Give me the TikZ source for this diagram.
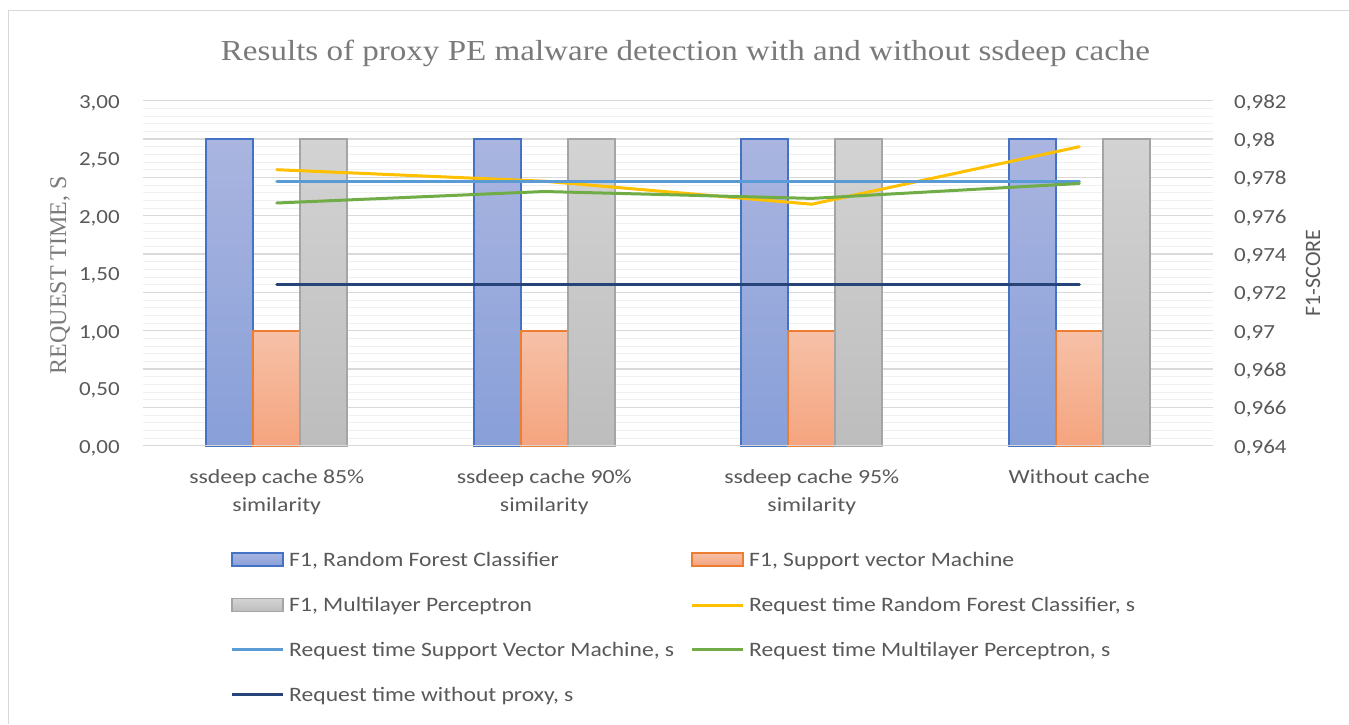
\documentclass[tikz,border=0pt]{standalone}
\usepackage{fontspec}
\setmainfont{Liberation Serif}
\newfontfamily\calib{Carlito}
\definecolor{gridmaj}{HTML}{D9D9D9}
\definecolor{gridmin}{HTML}{F0F0F0}
\definecolor{txtgray}{HTML}{595959}
\definecolor{titlegray}{HTML}{7A7A7A}
\definecolor{rfedge}{HTML}{4472C4}
\definecolor{rftop}{HTML}{AAB5E0}
\definecolor{rfbot}{HTML}{889FD8}
\definecolor{svedge}{HTML}{ED7D31}
\definecolor{svtop}{HTML}{F6C1A8}
\definecolor{svbot}{HTML}{F5A47E}
\definecolor{mledge}{HTML}{A5A5A5}
\definecolor{mltop}{HTML}{D3D3D3}
\definecolor{mlbot}{HTML}{BDBDBD}
\definecolor{lyellow}{HTML}{FFC000}
\definecolor{lblue}{HTML}{5B9BD5}
\definecolor{lgreen}{HTML}{70AD47}
\definecolor{lnavy}{HTML}{264478}
\tikzset{
  minorgrid/.style={draw=gridmin, line width=1pt},
  majorgrid/.style={draw=gridmaj, line width=1.3pt},
  rfbar/.style={draw=rfedge, line width=1.8pt, top color=rftop, bottom color=rfbot},
  svbar/.style={draw=svedge, line width=1.8pt, top color=svtop, bottom color=svbot},
  mlbar/.style={draw=mledge, line width=1.8pt, top color=mltop, bottom color=mlbot},
  serline/.style={line width=3pt, line join=round, line cap=round},
  ticklab/.style={font=\calib\fontsize{20}{24}\selectfont, text=txtgray, inner sep=0pt, xscale=1.15},
  catlab/.style={font=\calib\fontsize{20}{24}\selectfont, text=txtgray, inner sep=0pt, anchor=base, xscale=1.19},
  leglab/.style={font=\calib\fontsize{20.5}{24}\selectfont, text=txtgray, inner sep=0pt, anchor=base west, xscale=1.15},
  legline/.style={line width=3pt},
}
\begin{document}
\begin{tikzpicture}[x=1pt,y=-1pt]
\useasboundingbox (0,0) rectangle (1349,724);
\fill[white] (0,0) rectangle (1349,724);
% chart frame (top and left visible)
\draw[gridmaj, line width=1.5pt] (1349,10.7) -- (8.7,10.7) -- (8.7,724);
% title
\node[font=\fontsize{29}{34}\selectfont, text=titlegray, inner sep=0pt, anchor=base, xscale=1.14] (title) at (685.5,60) {Results of proxy PE malware detection with and without ssdeep cache};
% gridlines
\foreach \i in {0,...,45} {
  \pgfmathsetmacro\yy{100.7+\i*345/45}
  \draw[minorgrid] (143,\yy) -- (1213,\yy);
}
\foreach \i in {0,...,9} {
  \pgfmathsetmacro\yy{100.7+\i*345/9}
  \draw[majorgrid] (143,\yy) -- (1213,\yy);
}
% left tick labels
\foreach \i/\lab in {0/{0,00},1/{0,50},2/{1,00},3/{1,50},4/{2,00},5/{2,50},6/{3,00}} {
  \pgfmathsetmacro\yy{445.7-\i*57.5+7.3}
  \node[ticklab, anchor=base east] (tl\i) at (120,\yy) {\lab};
}
% right tick labels
\foreach \i/\lab in {0/{0,964},1/{0,966},2/{0,968},3/{0,97},4/{0,972},5/{0,974},6/{0,976},7/{0,978},8/{0,98},9/{0,982}} {
  \pgfmathsetmacro\yy{445.7-\i*345/9+7.3}
  \node[ticklab, anchor=base west] (tr\i) at (1234,\yy) {\lab};
}
% axis titles
\node[font=\fontsize{24}{28}\selectfont, text=titlegray, inner sep=0pt, anchor=base, rotate=90] (ytitle) at (66,275) {REQUEST TIME, S};
\node[font=\calib\fontsize{22}{26}\selectfont, text=txtgray, inner sep=0pt, anchor=base, rotate=90] (y2title) at (1320,273) {F1-SCORE};
% bars
\foreach \c in {276.75,544.25,811.75,1079.25} {
  \draw[rfbar] (\c-70.5,139.0) rectangle (\c-23.5,445.7);
  \draw[svbar] (\c-23.5,330.7) rectangle (\c+23.5,445.7);
  \draw[mlbar] (\c+23.5,139.0) rectangle (\c+70.5,445.7);
}
% axis line
\draw[gridmaj, line width=1.5pt] (143,445.7) -- (1213,445.7);
% line series
\coordinate (y1) at (276.75,169.7); \coordinate (y2) at (544.25,181.2);
\coordinate (y3) at (811.75,204.2); \coordinate (y4) at (1079.25,146.7);
\coordinate (b1) at (276.75,181.2); \coordinate (b4) at (1079.25,181.2);
\coordinate (g1) at (276.75,203.0); \coordinate (g2) at (544.25,191.5);
\coordinate (g3) at (811.75,198.4); \coordinate (g4) at (1079.25,183.5);
\coordinate (n1) at (276.75,284.7); \coordinate (n4) at (1079.25,284.7);
\draw[serline, lyellow] (y1) -- (y2) -- (y3) -- (y4);
\draw[serline, lblue] (b1) -- (b4);
\draw[serline, lgreen] (g1) -- (g2) -- (g3) -- (g4);
\draw[serline, lnavy] (n1) -- (n4);
% category labels
\node[catlab] (c1a) at (276.75,483.3) {ssdeep cache 85\%};
\node[catlab] (c1b) at (276.75,511.7) {similarity};
\node[catlab] (c2a) at (544.25,483.3) {ssdeep cache 90\%};
\node[catlab] (c2b) at (544.25,511.7) {similarity};
\node[catlab] (c3a) at (811.75,483.3) {ssdeep cache 95\%};
\node[catlab] (c3b) at (811.75,511.7) {similarity};
\node[catlab] (c4a) at (1079.25,483.3) {Without cache};
% legend
\draw[rfbar, line width=1.5pt] (232,553) rectangle (283,565.8);
\node[leglab] (lg1) at (289,566) {F1, Random Forest Classifier};
\draw[svbar, line width=1.5pt] (692,553) rectangle (743,565.8);
\node[leglab] (lg2) at (749,566) {F1, Support vector Machine};
\draw[mlbar, line width=1.5pt] (232,598.6) rectangle (283,611.4);
\node[leglab] (lg3) at (289,611.7) {F1, Multilayer Perceptron};
\draw[legline, lyellow] (692,605) -- (743,605);
\node[leglab] (lg4) at (749,611.7) {Request time Random Forest Classifier, s};
\draw[legline, lblue] (232,649.5) -- (283,649.5);
\node[leglab] (lg5) at (289,656.2) {Request time Support Vector Machine, s};
\draw[legline, lgreen] (692,649.5) -- (743,649.5);
\node[leglab] (lg6) at (749,656.2) {Request time Multilayer Perceptron, s};
\draw[legline, lnavy] (232,694.5) -- (283,694.5);
\node[leglab] (lg7) at (289,701.2) {Request time without proxy, s};
\end{tikzpicture}
\end{document}
